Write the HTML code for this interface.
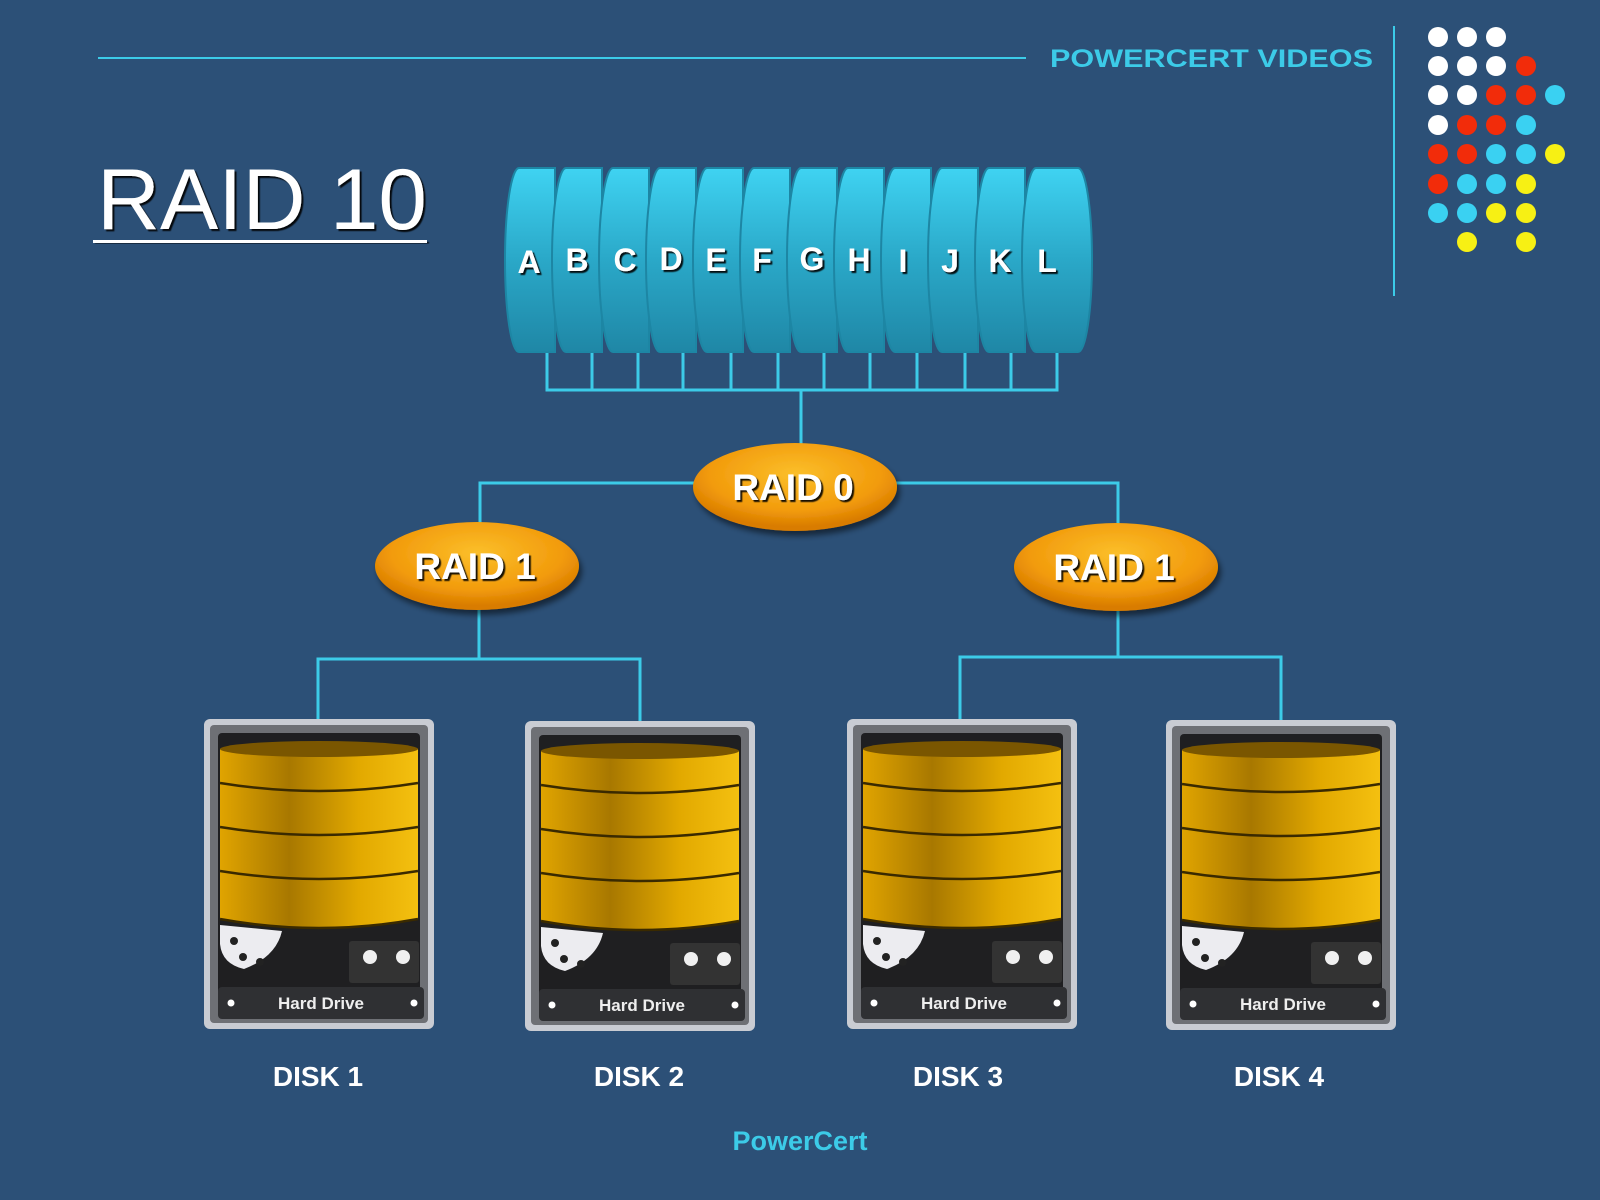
<!DOCTYPE html>
<html><head><meta charset="utf-8"><style>
html,body{margin:0;padding:0;background:#2c5077;}
svg{display:block;}
</style></head><body>
<svg width="1600" height="1200" viewBox="0 0 1600 1200" xmlns="http://www.w3.org/2000/svg" font-family="Liberation Sans, sans-serif">
<defs>
<linearGradient id="cyl" x1="0" y1="0" x2="0" y2="1">
<stop offset="0" stop-color="#3fd3f2"/><stop offset="0.5" stop-color="#2aa8c8"/><stop offset="1" stop-color="#1f87a6"/>
</linearGradient>
<radialGradient id="org" cx="0.5" cy="0.35" r="0.6">
<stop offset="0" stop-color="#fbbf2a"/><stop offset="0.7" stop-color="#f29b0c"/><stop offset="1" stop-color="#d97c00"/>
</radialGradient>
<linearGradient id="gold" x1="0" y1="0" x2="1" y2="0">
<stop offset="0" stop-color="#e0a400"/><stop offset="0.35" stop-color="#a87800"/><stop offset="0.7" stop-color="#e2a900"/><stop offset="1" stop-color="#f4c010"/>
</linearGradient>
<filter id="sh"><feDropShadow dx="2" dy="2" stdDeviation="0.5" flood-color="#000" flood-opacity="0.9"/></filter>
<filter id="esh"><feDropShadow dx="3" dy="5" stdDeviation="3" flood-color="#000" flood-opacity="0.5"/></filter>
<path id="sl" d="M14 0 H50 V184 H14 A14 92 0 0 1 14 0 Z"/>
<g id="drv">
<rect x="0" y="0" width="230" height="310" rx="6" fill="#c9ccd3"/>
<rect x="6" y="6" width="218" height="298" rx="4" fill="#6e7075"/>
<rect x="14" y="14" width="202" height="284" rx="4" fill="#1f1f21"/>
<path d="M16 30 H214 V200 Q115 218 16 200 Z" fill="url(#gold)"/>
<ellipse cx="115" cy="30" rx="99" ry="8" fill="#7a5600"/>
<path d="M16 64 Q115 80 214 64" stroke="#3a2a00" stroke-width="2.5" fill="none"/>
<path d="M16 108 Q115 124 214 108" stroke="#3a2a00" stroke-width="2.5" fill="none"/>
<path d="M16 152 Q115 168 214 152" stroke="#3a2a00" stroke-width="2.5" fill="none"/>
<path d="M16 200 Q115 218 214 200" stroke="#3a2a00" stroke-width="2.5" fill="none"/>
<path d="M16 206 L78 212 Q72 238 40 250 Q18 245 16 225 Z" fill="#ececf0"/>
<circle cx="30" cy="222" r="4" fill="#222"/><circle cx="39" cy="238" r="4" fill="#222"/><circle cx="56" cy="243" r="4" fill="#222"/>
<rect x="145" y="222" width="70" height="42" rx="3" fill="#333"/>
<circle cx="166" cy="238" r="7" fill="#f0f0f0"/><circle cx="199" cy="238" r="7" fill="#f0f0f0"/>
<rect x="14" y="268" width="206" height="32" rx="4" fill="#2f3033"/>
<circle cx="27" cy="284" r="3.5" fill="#fff"/><circle cx="210" cy="284" r="3.5" fill="#fff"/>
</g>
</defs>

<line x1="98" y1="58" x2="1026" y2="58" stroke="#3ccbe8" stroke-width="2"/>
<text x="1050" y="67" font-size="25" font-weight="bold" fill="#3ccbe8" textLength="323" lengthAdjust="spacingAndGlyphs">POWERCERT VIDEOS</text>
<line x1="1394" y1="26" x2="1394" y2="296" stroke="#3ccbe8" stroke-width="2"/>
<g>
<circle cx="1438" cy="37" r="10" fill="#fff"/><circle cx="1467" cy="37" r="10" fill="#fff"/><circle cx="1496" cy="37" r="10" fill="#fff"/>
<circle cx="1438" cy="66" r="10" fill="#fff"/><circle cx="1467" cy="66" r="10" fill="#fff"/><circle cx="1496" cy="66" r="10" fill="#fff"/><circle cx="1526" cy="66" r="10" fill="#f22c0a"/>
<circle cx="1438" cy="95" r="10" fill="#fff"/><circle cx="1467" cy="95" r="10" fill="#fff"/><circle cx="1496" cy="95" r="10" fill="#f22c0a"/><circle cx="1526" cy="95" r="10" fill="#f22c0a"/><circle cx="1555" cy="95" r="10" fill="#3ad1f2"/>
<circle cx="1438" cy="125" r="10" fill="#fff"/><circle cx="1467" cy="125" r="10" fill="#f22c0a"/><circle cx="1496" cy="125" r="10" fill="#f22c0a"/><circle cx="1526" cy="125" r="10" fill="#3ad1f2"/>
<circle cx="1438" cy="154" r="10" fill="#f22c0a"/><circle cx="1467" cy="154" r="10" fill="#f22c0a"/><circle cx="1496" cy="154" r="10" fill="#3ad1f2"/><circle cx="1526" cy="154" r="10" fill="#3ad1f2"/><circle cx="1555" cy="154" r="10" fill="#f7f014"/>
<circle cx="1438" cy="184" r="10" fill="#f22c0a"/><circle cx="1467" cy="184" r="10" fill="#3ad1f2"/><circle cx="1496" cy="184" r="10" fill="#3ad1f2"/><circle cx="1526" cy="184" r="10" fill="#f7f014"/>
<circle cx="1438" cy="213" r="10" fill="#3ad1f2"/><circle cx="1467" cy="213" r="10" fill="#3ad1f2"/><circle cx="1496" cy="213" r="10" fill="#f7f014"/><circle cx="1526" cy="213" r="10" fill="#f7f014"/>
<circle cx="1467" cy="242" r="10" fill="#f7f014"/><circle cx="1526" cy="242" r="10" fill="#f7f014"/>
</g>

<text x="97" y="229" font-size="86" fill="#fff" filter="url(#sh)" textLength="330" lengthAdjust="spacingAndGlyphs">RAID 10</text>
<rect x="93" y="240" width="334" height="3" fill="#fff" filter="url(#sh)"/>

<g stroke="#3ccbe8" stroke-width="3" fill="none">
<path d="M547 350V390H1057V350 M592 350V390 M638 350V390 M683 350V390 M731 350V390 M778 350V390 M824 350V390 M870 350V390 M917 350V390 M965 350V390 M1011 350V390"/>
<path d="M801 390V450 M480 530V483H1118V530"/>
<path d="M479 600V659 M318 722V659H640V722"/>
<path d="M1118 600V657 M960 722V657H1281V722"/>
</g>

<g fill="url(#cyl)" stroke="#1d86a4" stroke-width="2">
<use href="#sl" x="505" y="168"/>
<use href="#sl" x="552" y="168"/>
<use href="#sl" x="599" y="168"/>
<use href="#sl" x="646" y="168"/>
<use href="#sl" x="693" y="168"/>
<use href="#sl" x="740" y="168"/>
<use href="#sl" x="787" y="168"/>
<use href="#sl" x="834" y="168"/>
<use href="#sl" x="881" y="168"/>
<use href="#sl" x="928" y="168"/>
<use href="#sl" x="975" y="168"/>
<path d="M1036 168 H1078 A14 92 0 0 1 1078 352 H1036 A14 92 0 0 1 1036 168 Z"/>
</g>
<g font-size="32" font-weight="bold" fill="#fff" text-anchor="middle" filter="url(#sh)">
<text x="529" y="273">A</text><text x="577" y="271">B</text><text x="625" y="271">C</text><text x="671" y="270">D</text><text x="716" y="271">E</text><text x="762" y="271">F</text><text x="812" y="270">G</text><text x="859" y="271">H</text><text x="903" y="272">I</text><text x="950" y="272">J</text><text x="1000" y="272">K</text><text x="1047" y="272">L</text>
</g>

<g filter="url(#esh)">
<ellipse cx="795" cy="487" rx="102" ry="44" fill="url(#org)"/>
<ellipse cx="477" cy="566" rx="102" ry="44" fill="url(#org)"/>
<ellipse cx="1116" cy="567" rx="102" ry="44" fill="url(#org)"/>
</g>
<g font-size="37" font-weight="bold" fill="#fff" text-anchor="middle" filter="url(#sh)">
<text x="793" y="500">RAID 0</text>
<text x="475" y="579">RAID 1</text>
<text x="1114" y="580">RAID 1</text>
</g>

<use href="#drv" x="204" y="719"/>
<use href="#drv" x="525" y="721"/>
<use href="#drv" x="847" y="719"/>
<use href="#drv" x="1166" y="720"/>
<g font-size="17" font-weight="bold" fill="#eee" text-anchor="middle">
<text x="321" y="1009">Hard Drive</text>
<text x="642" y="1011">Hard Drive</text>
<text x="964" y="1009">Hard Drive</text>
<text x="1283" y="1010">Hard Drive</text>
</g>

<g font-size="28" font-weight="bold" fill="#fff" text-anchor="middle">
<text x="318" y="1086">DISK 1</text>
<text x="639" y="1086">DISK 2</text>
<text x="958" y="1086">DISK 3</text>
<text x="1279" y="1086">DISK 4</text>
</g>
<text x="800" y="1150" font-size="27" font-weight="bold" fill="#3ccbe8" text-anchor="middle">PowerCert</text>
</svg>
</body></html>
